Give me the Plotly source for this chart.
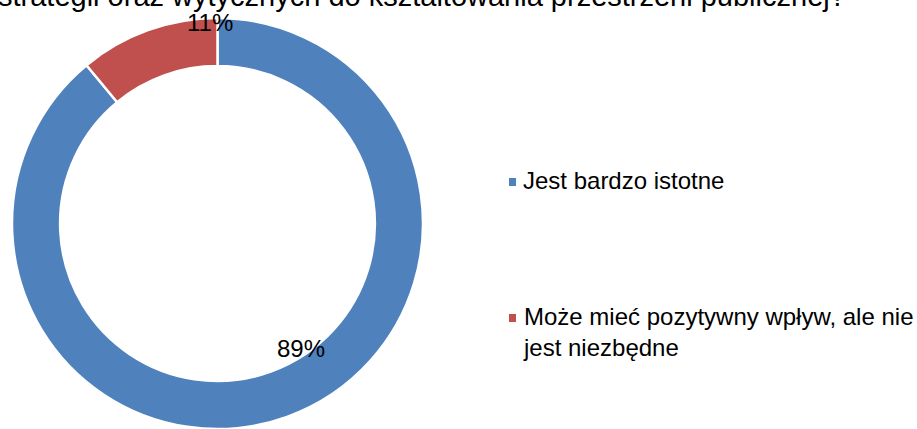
"""Donut chart: importance of public space strategy and guidelines."""

import plotly.graph_objects as go

W, H = 917, 429
FONT = "Liberation Sans, Arial, sans-serif"

# data
labels = ["Jest bardzo istotne", "Może mieć pozytywny wpływ, ale nie jest niezbędne"]
values = [89, 11]
colors = ["#4F81BD", "#C0504D"]
title_tail = "strategii oraz wytycznych do kształtowania przestrzeni publicznej?"

total = sum(values)
pct = [f"{round(v / total * 100)}%" for v in values]

fig = go.Figure(go.Pie(
    labels=labels,
    values=values,
    hole=0.766,
    sort=False,
    direction="clockwise",
    rotation=0,
    marker=dict(colors=colors, line=dict(color="#FFFFFF", width=2.5)),
    textinfo="none",
    hoverinfo="label+percent",
    domain=dict(x=[0, 435 / W], y=[0, 0.958]),
    showlegend=False,
))

# the title is mostly cut off at the top in the reference
fig.add_annotation(
    text=title_tail, xref="paper", yref="paper",
    x=848 / W, y=1, xanchor="right", yanchor="middle", yshift=4,
    showarrow=False, font=dict(family=FONT, size=29, color="#000000"),
)

# data labels, positioned like the original Excel export
label_pos = [(301, 348), (210, 22)]
for text, (px_, py_) in zip(pct, label_pos):
    fig.add_annotation(
        text=text, xref="paper", yref="paper",
        x=px_ / W, y=1 - py_ / H, xanchor="center", yanchor="middle",
        showarrow=False, font=dict(family=FONT, size=24, color="#000000"),
    )

# hand-drawn legend to get the wide item spacing
legend_rows = [182, 318]
legend_text = [labels[0], labels[1].replace("ale nie ", "ale nie<br>")]
for text, color, ly in zip(legend_text, colors, legend_rows):
    fig.add_shape(
        type="rect", xref="paper", yref="paper",
        x0=509 / W, x1=516 / W, y0=1 - (ly - 4) / H, y1=1 - (ly + 4) / H,
        fillcolor=color, line=dict(width=0),
    )
    fig.add_annotation(
        text=text, xref="paper", yref="paper",
        x=521 / W, y=1 - (ly - 2) / H, xanchor="left", yanchor="top",
        yshift=15, align="left", showarrow=False,
        font=dict(family=FONT, size=24, color="#000000"),
    )

fig.update_layout(
    width=W, height=H,
    margin=dict(l=0, r=0, t=0, b=0),
    paper_bgcolor="#FFFFFF",
    plot_bgcolor="#FFFFFF",
)

# drop the browser's default body margin so the figure sits at the corner
fig.write_html(
    "out.html",
    config={"displayModeBar": False},
    post_script="document.body.style.margin = '0px';",
)
